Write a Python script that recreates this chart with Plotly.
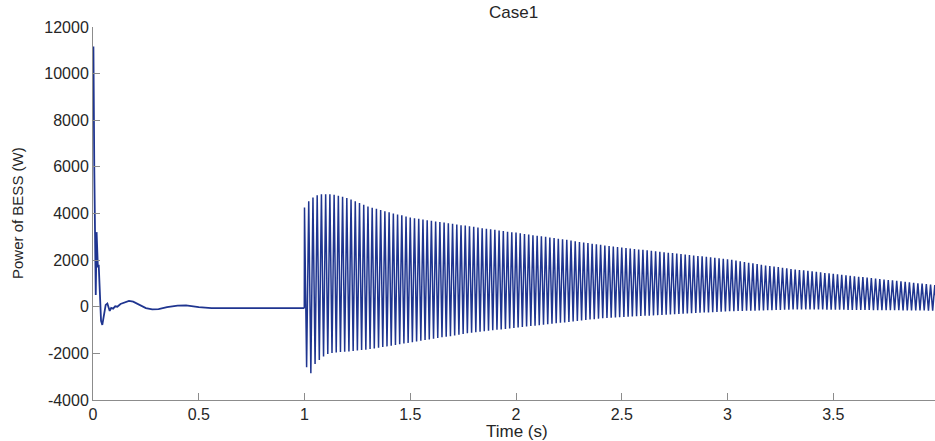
import plotly.graph_objects as go

# ---------------- data ----------------
# Start-up transient (0 .. 1 s): time (s) and power (W)
early_t = [0.000, 0.002, 0.006, 0.010, 0.013, 0.017, 0.020, 0.023, 0.027, 0.032,
           0.038, 0.044, 0.052, 0.060, 0.068, 0.074, 0.079, 0.086, 0.095, 0.105,
           0.115, 0.130, 0.150, 0.170, 0.190, 0.220, 0.250, 0.280, 0.310, 0.350,
           0.400, 0.440, 0.500, 0.560, 0.650, 0.800, 0.999]
early_p = [9000, 11160, 6000, 1500, 500, 3200, 2600, 1700, 1800, 300,
           -600, -780, -300, 80, 140, -100, -180, -50, -80, 20,
           0, 120, 200, 250, 220, 80, -60, -110, -100, -20,
           50, 60, -20, -60, -60, -60, -60]

# Oscillation after the disturbance at t = 1 s (one peak + one trough per cycle)
osc_start = 1.0      # s
osc_period = 0.02    # s (50 Hz)
osc_peaks = [
    4260, 4520, 4690, 4780, 4820, 4830, 4820, 4800, 4760, 4720,
    4660, 4600, 4520, 4450, 4380, 4300, 4250, 4200, 4150, 4100,
    4050, 4000, 3960, 3920, 3870, 3830, 3800, 3770, 3740, 3710,
    3690, 3660, 3640, 3610, 3580, 3560, 3530, 3500, 3480, 3450,
    3430, 3400, 3370, 3350, 3320, 3300, 3270, 3250, 3220, 3200,
    3180, 3150, 3120, 3100, 3070, 3050, 3020, 3000, 2970, 2950,
    2920, 2890, 2870, 2840, 2810, 2780, 2760, 2730, 2700, 2680,
    2660, 2630, 2610, 2580, 2560, 2540, 2520, 2500, 2480, 2460,
    2440, 2420, 2400, 2380, 2360, 2340, 2320, 2300, 2280, 2260,
    2240, 2220, 2200, 2180, 2160, 2140, 2120, 2100, 2080, 2060,
    2040, 2010, 1980, 1950, 1920, 1890, 1860, 1830, 1800, 1770,
    1750, 1720, 1700, 1670, 1650, 1620, 1600, 1580, 1560, 1540,
    1520, 1500, 1480, 1450, 1430, 1410, 1390, 1370, 1350, 1330,
    1310, 1290, 1270, 1250, 1230, 1210, 1190, 1170, 1150, 1130,
    1110, 1090, 1070, 1050, 1030, 1010, 990, 970, 950, 930,
]
osc_troughs = [
    -2600, -2850, -2460, -2280, -2130, -2030, -1980, -1960, -1940, -1930,
    -1920, -1900, -1880, -1860, -1840, -1810, -1790, -1760, -1730, -1700,
    -1670, -1640, -1610, -1580, -1550, -1520, -1490, -1460, -1430, -1400,
    -1370, -1340, -1310, -1290, -1260, -1230, -1200, -1170, -1140, -1110,
    -1090, -1070, -1050, -1030, -1010, -990, -970, -950, -930, -910,
    -890, -870, -850, -830, -810, -790, -770, -750, -730, -710,
    -690, -670, -650, -630, -610, -590, -570, -550, -530, -510,
    -490, -480, -470, -460, -450, -440, -430, -420, -410, -400,
    -390, -380, -370, -360, -350, -340, -330, -320, -310, -300,
    -290, -280, -270, -260, -250, -240, -230, -220, -210, -200,
    -195, -190, -185, -180, -175, -170, -165, -160, -155, -150,
    -145, -140, -135, -130, -125, -120, -120, -120, -120, -120,
    -120, -120, -120, -125, -125, -130, -130, -130, -135, -135,
    -135, -140, -140, -140, -145, -145, -145, -150, -150, -150,
    -150, -155, -155, -155, -160, -160, -160, -165, -165, -170,
]

x_ticks = [0, 0.5, 1, 1.5, 2, 2.5, 3, 3.5, 4]
x_tick_labels = ["0", "0.5", "1", "1.5", "2", "2.5", "3", "3.5", "4"]
y_ticks = [-4000, -2000, 0, 2000, 4000, 6000, 8000, 10000, 12000]
y_tick_labels = [str(v) for v in y_ticks]

title_text = "Case1"
x_title = "Time (s)"
y_title = "Power of BESS (W)"

# ---------------- build the series ----------------
osc_x = [early_t[-1]]
osc_y = [early_p[-1]]
for k, (pk, tr) in enumerate(zip(osc_peaks, osc_troughs)):
    osc_x.append(osc_start + k * osc_period)
    osc_y.append(pk)
    osc_x.append(osc_start + k * osc_period + osc_period / 2)
    osc_y.append(tr)

line_color = "#1f3590"
axis_color = "#8c8c8c"
text_color = "#262626"
font_family = "Liberation Sans, Arial, sans-serif"

# the page body margin is removed (post_script), so figure coords = screen coords
W, H = 935, 441
L, R, T = 93, 0, 27
B = H - 400
pw, ph = W - L - R, H - T - B


def px_x(sx):
    return (sx - L) / pw


def px_y(sy):
    return 1 - (sy - T) / ph


fig = go.Figure()
fig.add_trace(go.Scatter(x=early_t, y=early_p, mode="lines",
                         line=dict(color=line_color, width=1.8),
                         showlegend=False, hoverinfo="skip"))
fig.add_trace(go.Scatter(x=osc_x, y=osc_y, mode="lines",
                         line=dict(color=line_color, width=1.5),
                         showlegend=False, hoverinfo="skip"))

fig.update_layout(
    width=W, height=H,
    margin=dict(l=L, r=R, t=T, b=B, autoexpand=False),
    paper_bgcolor="white", plot_bgcolor="white",
    hovermode=False,
    font=dict(family=font_family, size=16, color=text_color),
    annotations=[
        dict(text=title_text, xref="paper", yref="paper",
             x=px_x(513), y=px_y(13), xanchor="center", yanchor="middle",
             showarrow=False, font=dict(size=17, color=text_color)),
        dict(text=x_title, xref="paper", yref="paper",
             x=px_x(517), y=px_y(431), xanchor="center", yanchor="middle",
             showarrow=False, font=dict(size=17, color=text_color)),
        dict(text=y_title, xref="paper", yref="paper", textangle=-90,
             x=px_x(17), y=px_y(213), xanchor="center", yanchor="middle",
             showarrow=False, font=dict(size=15, color=text_color)),
    ],
)
fig.update_xaxes(
    range=[0, 3.981], tickvals=x_ticks, ticktext=x_tick_labels, automargin=False,
    showgrid=False, zeroline=False, showline=True, linecolor=axis_color, linewidth=1,
    ticks="inside", ticklen=7, tickcolor=axis_color, tickwidth=1,
    tickfont=dict(size=16, color=text_color),
)
fig.update_yaxes(
    range=[-4000, 12000], tickvals=y_ticks, ticktext=y_tick_labels, automargin=False,
    showgrid=False, zeroline=False, showline=True, linecolor=axis_color, linewidth=1,
    ticks="inside", ticklen=7, tickcolor=axis_color, tickwidth=1,
    tickfont=dict(size=16, color=text_color),
)

fig.write_html(
    "out.html",
    config={"displayModeBar": False, "staticPlot": True},
    post_script="document.body.style.margin='0';document.body.style.overflow='hidden';",
)
